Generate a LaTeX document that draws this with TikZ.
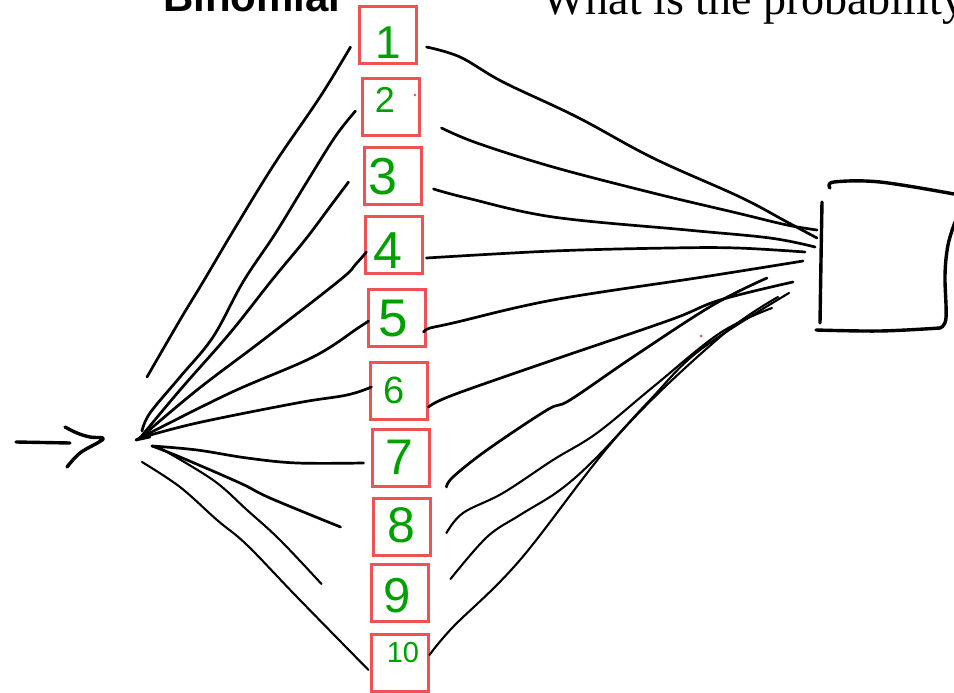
\documentclass[tikz,border=0pt]{standalone}
\usepackage{fontspec}
\setmainfont{Liberation Serif}
\newfontfamily\headfont{Liberation Sans}
\newfontfamily\digfont{Liberation Sans}
\usetikzlibrary{calc}
\definecolor{boxred}{RGB}{238,82,82}
\definecolor{dgreen}{RGB}{0,160,0}
\begin{document}
\begin{tikzpicture}[x=1pt,y=-1pt,
  numbox/.style={draw=boxred, line width=3pt, minimum width=57pt, minimum height=57pt, inner sep=0pt},
  digit/.style={text=dgreen, inner sep=0pt},
  fan/.style={line width=2.7pt, line cap=round, line join=round},
  thinfan/.style={line width=2.1pt, line cap=round, line join=round},
  pen/.style={line width=3.4pt, line cap=round, line join=round},
  sm/.style={smooth, tension=0.6}]
\useasboundingbox (0,0) rectangle (954,693);
\clip (0,0) rectangle (954,693);

% cut-off heading texts
\node[anchor=base west, inner sep=0pt, font=\headfont\bfseries\fontsize{42}{42}\selectfont] (title) at (163,12) {Binomial};
\node[anchor=base west, inner sep=0pt, font=\fontsize{46}{46}\selectfont] (question) at (542,15) {What is the probability};

% boxes
\node[numbox] (b1) at (387.5,35.5) {};
\node[numbox] (b2) at (390.5,107) {};
\node[numbox] (b3) at (393,175.5) {};
\node[numbox] (b4) at (394,244.5) {};
\node[numbox] (b5) at (397,318) {};
\node[numbox] (b6) at (399,391) {};
\node[numbox] (b7) at (401,457.5) {};
\node[numbox] (b8) at (402,526.5) {};
\node[numbox] (b9) at (400,593) {};
\node[numbox] (b10) at (399.5,662.5) {};

% digits
\node[digit, font=\digfont\fontsize{46}{46}\selectfont] (d1) at (388,43) {1};
\node[digit, font=\digfont\fontsize{36}{36}\selectfont] (d2) at (385,100) {2};
\node[digit, font=\digfont\fontsize{52}{52}\selectfont] (d3) at (383,177) {3};
\node[digit, font=\digfont\fontsize{52}{52}\selectfont] (d4) at (388,251) {4};
\node[digit, font=\digfont\fontsize{53}{53}\selectfont] (d5) at (393,319) {5};
\node[digit, font=\digfont\fontsize{38}{38}\selectfont] (d6) at (394,390) {6};
\node[digit, font=\digfont\fontsize{50}{50}\selectfont] (d7) at (399,457) {7};
\node[digit, font=\digfont\fontsize{50}{50}\selectfont] (d8) at (401,525) {8};
\node[digit, font=\digfont\fontsize{49}{49}\selectfont] (d9) at (397,596) {9};
\node[digit, font=\digfont\fontsize{29}{29}\selectfont] (d10) at (403,653) {10};

% input arrow
\coordinate (arrA) at (16,442);
\coordinate (arrB) at (70,443);
\draw[pen] (arrA) -- (arrB);
\draw[pen] plot[sm] coordinates {(65,427) (77,433) (90,437) (103,438) (99,442) (80,453) (67,467)};

% hub points
\coordinate (hub) at (140,438);
\coordinate (hubB) at (152,446);

% left fan
\draw[fan] plot[sm] coordinates {(147,377) (180,320) (203,282) (235,228) (275,163) (320,97) ($(b1.west)+(-7,11.5)$)};
\draw[fan] plot[sm] coordinates {(142,431) (150,413) (180,377) (213,337) (243,282) (275,234) (305,185) (335,137) ($(b2.west)+(-5,4)$)};
\draw[fan] plot[sm] coordinates {(hub) (180,390) (230,333) (272,280) (305,240) (332,204) ($(b3.west)+(-14.5,6.5)$)};
\draw[fan] plot[sm] coordinates {(hub) (197,390) (263,340) (340,280) (355,265) ($(b4.west)+(2.5,7.5)$)};
\draw[fan] plot[sm] coordinates {(hub) (230,393) (313,357) (358,328) ($(b5.west)+(1.5,3)$)};
\draw[fan] plot[sm] coordinates {(hub) (197,423) (297,403) (347,395) ($(b6.west)+(2.5,-4)$)};
\draw[fan] (hub) -- (136,440) -- (150,437);
\draw[fan] plot[sm] coordinates {(hubB) (197,450) (247,458) (297,463) ($(b7.west)+(-7.5,5.5)$)};
\draw[fan] plot[sm] coordinates {(hubB) (180,457) (240,483) (270,498) ($(b8.west)+(-31.5,0.5)$)};
\draw[thinfan] plot[sm] coordinates {(160,448) (213,480) (247,510) (280,540) ($(b9.west)+(-48.5,-9)$)};
\draw[thinfan] plot[sm] coordinates {(142,462) (180,487) (217,520) (247,545) (297,597) ($(b10.west)+(-1,7.5)$)};

% output box (freehand)
\coordinate (sink) at (810,250);
\draw[pen] plot[sm] coordinates {(822,202) (821,260) (820,323)};
\draw[pen] plot[sm] coordinates {(830,188) (834,182) (880,182) (954,194)};
\draw[pen] plot[sm] coordinates {(955,222) (948,245) (945,275) (946,318) (940,328)};
\draw[pen] plot[sm] coordinates {(816,330) (880,331) (940,328)};

% right fan
\draw[fan] plot[sm] coordinates {($(b1.east)+(9,11.5)$) (460,57) (503,82) (577,117) (653,158) (740,197) (787,222) ($(sink)+(7,-12)$)};
\draw[fan] plot[sm] coordinates {($(b2.east)+(21,21)$) (477,143) (553,167) (653,193) (737,213) (787,225) ($(sink)+(7,-20)$)};
\draw[fan] plot[sm] coordinates {($(b3.east)+(10.5,13.5)$) (467,198) (553,217) (687,230) (770,238) ($(sink)+(5,-3)$)};
\draw[fan] plot[sm] coordinates {($(b4.east)+(2.5,13.5)$) (553,251) (670,248) (737,248) ($(sink)+(-5,2)$)};
\draw[fan] plot[sm] coordinates {($(b5.east)+(-3.5,14)$) (430,328) (453,323) (553,300) (703,277) ($(sink)+(-7,11)$)};
\draw[fan] plot[sm] coordinates {($(b6.east)+(-0.5,16)$) (453,395) (553,360) (670,320) (720,300) ($(sink)+(-17,32)$)};
\draw[fan] plot[sm] coordinates {($(b7.east)+(15.5,29.5)$) (453,477) (487,450) (547,410) (570,400) (633,357) (713,305) ($(sink)+(-43,28)$)};
\draw[thinfan] plot[sm] coordinates {($(b8.east)+(14.5,6.5)$) (463,513) (503,493) (553,460) (597,433) (653,387) (720,333) ($(sink)+(-38,58)$)};
\draw[thinfan] plot[sm] coordinates {($(b9.east)+(20.5,-14)$) (487,537) (520,515) (560,490) (597,457) (650,400) (700,350) ($(sink)+(-21,43)$)};
\draw[thinfan] plot[sm] coordinates {($(b10.east)+(0,-7.5)$) (453,627) (520,560) (620,433) (720,337) ($(sink)+(-32,47)$)};

% stray red dots
\fill[boxred] (415,95) circle (1.3);
\fill[boxred] (701,336) circle (1.5);
\end{tikzpicture}
\end{document}
